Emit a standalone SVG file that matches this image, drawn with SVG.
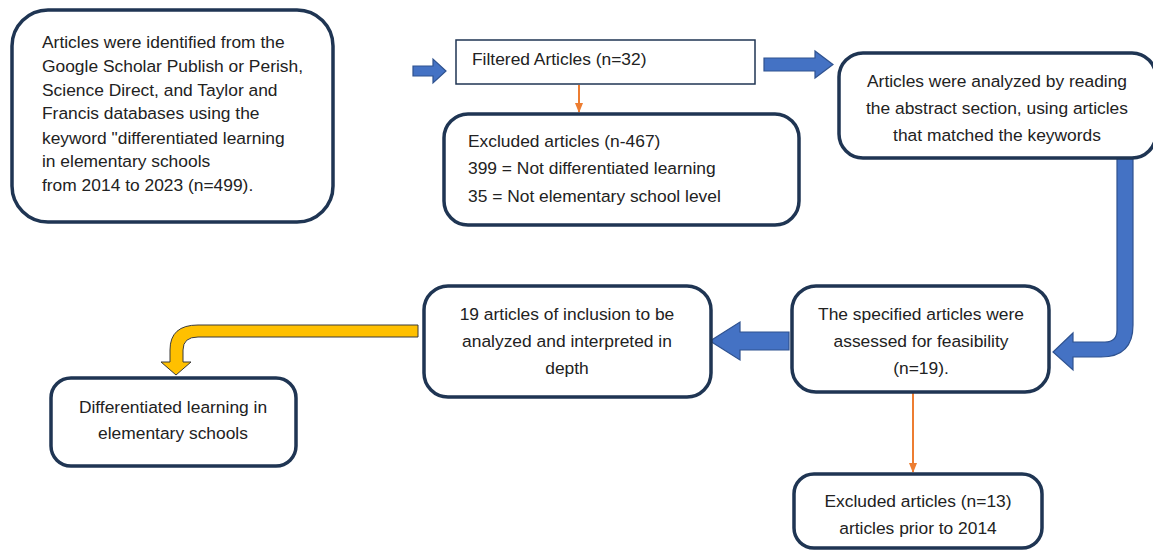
<svg xmlns="http://www.w3.org/2000/svg" width="1153" height="550" viewBox="0 0 1153 550">
<style>
.box{fill:#fff;stroke:#1f3553;stroke-width:3.5}
.thin{fill:#fff;stroke:#1f3553;stroke-width:1.5}
text{font-family:"Liberation Sans",Arial,sans-serif;font-size:17.4px;fill:#222}
.c{text-anchor:middle}
.blue{fill:#4472c4;stroke:#2f528f;stroke-width:1.2}
.yel{fill:#ffc000;stroke:#3a3a3a;stroke-width:1}
.or{stroke:#ed7d31;stroke-width:2;fill:none}
</style>
<defs>
<marker id="oh" markerWidth="10" markerHeight="8" refX="9" refY="4" orient="auto" markerUnits="userSpaceOnUse">
<path d="M0,0 L10,4 L0,8 Z" fill="#ed7d31"/>
</marker>
</defs>
<rect width="1153" height="550" fill="#fff"/>
<g id="connectors">
<path class="blue" d="M413,66 H433 V59 L446,71 L433,83 V76 H413 Z"/>
<path class="or" d="M579,85 V112" marker-end="url(#oh)"/>
<path class="blue" d="M764,58 H815 V51 L833,64.5 L815,78 V71 H764 Z"/>
<path class="blue" d="M1117,153 H1133 V325 Q1133,357 1101,357 H1073 V370 L1053,352 L1073,333 V342 H1105 Q1117,342 1117,330 Z"/>
<path class="blue" d="M789,332 H740 V322 L710,341 L740,360 V350 H789 Z"/>
<path class="yel" d="M418,325 H198 Q170,325 170,350 V362 H161 L176,375 L191,362 H183 V350 Q183,337 198,337 H418 Z"/>
<path class="or" d="M913,393 V472" marker-end="url(#oh)"/>
</g>
<g id="n1">
<rect class="box" x="12" y="10" width="321" height="212" rx="36"/>
<text x="42" y="48">Articles were identified from the</text>
<text x="42" y="72">Google Scholar Publish or Perish,</text>
<text x="42" y="96">Science Direct, and Taylor and</text>
<text x="42" y="119">Francis databases using the</text>
<text x="42" y="144">keyword "differentiated learning</text>
<text x="42" y="167">in elementary schools</text>
<text x="42" y="191">from 2014 to 2023 (n=499).</text>
</g>
<g id="n2">
<rect class="thin" x="456" y="40" width="299" height="44"/>
<text x="472" y="65">Filtered Articles (n=32)</text>
</g>
<g id="n3">
<rect class="box" x="444" y="114" width="355" height="111" rx="24"/>
<text x="468" y="147">Excluded articles (n-467)</text>
<text x="468" y="174">399 = Not differentiated learning</text>
<text x="468" y="202">35 = Not elementary school level</text>
</g>
<g id="n4">
<rect class="box" x="839" y="53" width="317" height="105" rx="24"/>
<text class="c" x="997" y="87">Articles were analyzed by reading</text>
<text class="c" x="997" y="114">the abstract section, using articles</text>
<text class="c" x="997" y="141">that matched the keywords</text>
</g>
<g id="n5">
<rect class="box" x="792" y="286" width="257" height="106" rx="24"/>
<text class="c" x="921" y="320">The specified articles were</text>
<text class="c" x="921" y="347">assessed for feasibility</text>
<text class="c" x="921" y="374">(n=19).</text>
</g>
<g id="n6">
<rect class="box" x="424" y="286" width="287" height="111" rx="24"/>
<text class="c" x="567" y="320">19 articles of inclusion to be</text>
<text class="c" x="567" y="347">analyzed and interpreted in</text>
<text class="c" x="567" y="374">depth</text>
</g>
<g id="n7">
<rect class="box" x="51" y="378" width="245" height="88" rx="20"/>
<text class="c" x="173" y="413">Differentiated learning in</text>
<text class="c" x="173" y="439">elementary schools</text>
</g>
<g id="n8">
<rect class="box" x="794" y="474" width="248" height="74" rx="20"/>
<text class="c" x="918" y="507">Excluded articles (n=13)</text>
<text class="c" x="918" y="534">articles prior to 2014</text>
</g>
</svg>
